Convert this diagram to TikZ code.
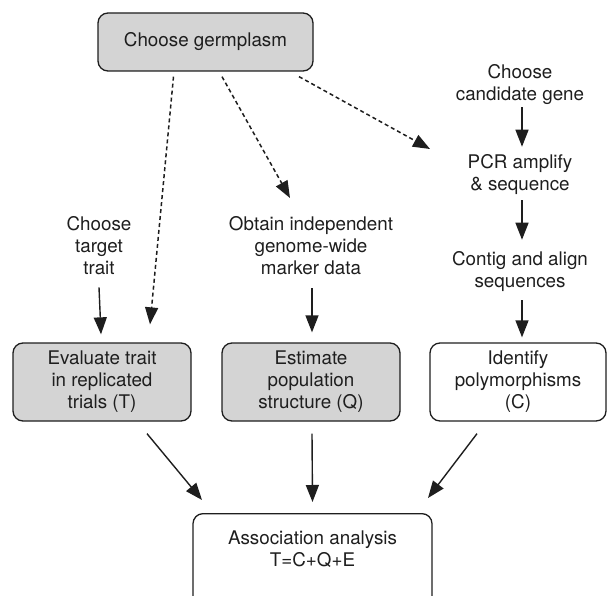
\documentclass[tikz,border=0pt]{standalone}
\usepackage{fontspec}
\setmainfont{TeX Gyre Heros}
\usetikzlibrary{arrows.meta}
\definecolor{boxgray}{RGB}{212,212,212}
\definecolor{ink}{RGB}{30,30,30}
\begin{document}
\begin{tikzpicture}[x=1pt,y=1pt,
  every node/.style={font=\fontsize{18.8}{22}\selectfont, text=ink},
  txt/.style={align=center, inner sep=0pt},
  box/.style={draw=ink, line width=1.3pt, rounded corners=10pt, align=center, inner sep=0pt},
  graybox/.style={box, fill=boxgray},
  arr/.style={draw=ink, line width=1.4pt, -{Triangle[length=17pt,width=13pt]}},
  darr/.style={arr, line width=1.5pt, dash pattern=on 4pt off 3pt},
]
\useasboundingbox (0,0) rectangle (607,-596);

% top box
\node[graybox, minimum width=215pt, minimum height=58pt] (top) at (205.5,-42) {Choose germplasm};

% middle row boxes
\node[graybox, minimum width=178pt, minimum height=78pt] (ev) at (102,-382) {Evaluate trait\\in replicated\\trials (T)};
\node[graybox, minimum width=178pt, minimum height=78pt] (es) at (311,-382) {Estimate\\population\\structure (Q)};
\node[box, minimum width=176pt, minimum height=78pt] (id) at (518,-382) {Identify\\polymorphisms\\(C)};

% bottom box (runs past the lower edge)
\node[box, minimum width=239pt, minimum height=110pt, anchor=north] (assoc) at (312.5,-513) {};
\node[txt] (assoctxt) at (312.5,-549) {Association analysis\\T=C+Q+E};

% free texts
\node[txt] (lt) at (99,-246) {Choose\\target\\trait};
\node[txt] (ob) at (311,-246) {Obtain independent\\genome-wide\\marker data};
\node[txt] (cg) at (520,-85) {Choose\\candidate gene};
\node[txt] (pcr) at (520,-175) {PCR amplify\\\& sequence};
\node[txt] (ct) at (520,-272) {Contig and align\\sequences};

% dashed arrow ends
\coordinate (dm) at (290,-198);
\coordinate (dr) at (430,-149);

% dashed arrows
\draw[darr] ([xshift=-32pt,yshift=-5pt]top.south) -- ([xshift=48pt,yshift=18pt]ev.north);
\draw[darr] ([xshift=16.5pt,yshift=-5pt]top.south) -- (dm);
\draw[darr] ([xshift=93.5pt,yshift=-5pt]top.south) -- (dr);

% column arrows
\draw[arr] ([yshift=-12pt]lt.south) -- ([xshift=-1pt,yshift=8pt]ev.north);
\draw[arr] ([xshift=1pt,yshift=-13pt]ob.south) -- ([xshift=1pt,yshift=10pt]es.north);
\draw[arr] ([xshift=2pt,yshift=-2pt]cg.south) -- ([xshift=2pt,yshift=8pt]pcr.north);
\draw[arr] ([xshift=2pt,yshift=-5pt]pcr.south) -- ([xshift=2pt,yshift=12pt]ct.north);
\draw[arr] ([xshift=2pt,yshift=-8pt]ct.south) -- ([xshift=4pt,yshift=5pt]id.north);

% arrows to association analysis
\draw[arr] ([xshift=45pt,yshift=-12pt]ev.south) -- ([xshift=-110.5pt,yshift=13pt]assoc.north);
\draw[arr] ([xshift=1pt,yshift=-12pt]es.south) -- ([xshift=0pt,yshift=11pt]assoc.north);
\draw[arr] ([xshift=-41pt,yshift=-12pt]id.south) -- ([xshift=115.5pt,yshift=15pt]assoc.north);
\end{tikzpicture}
\end{document}
